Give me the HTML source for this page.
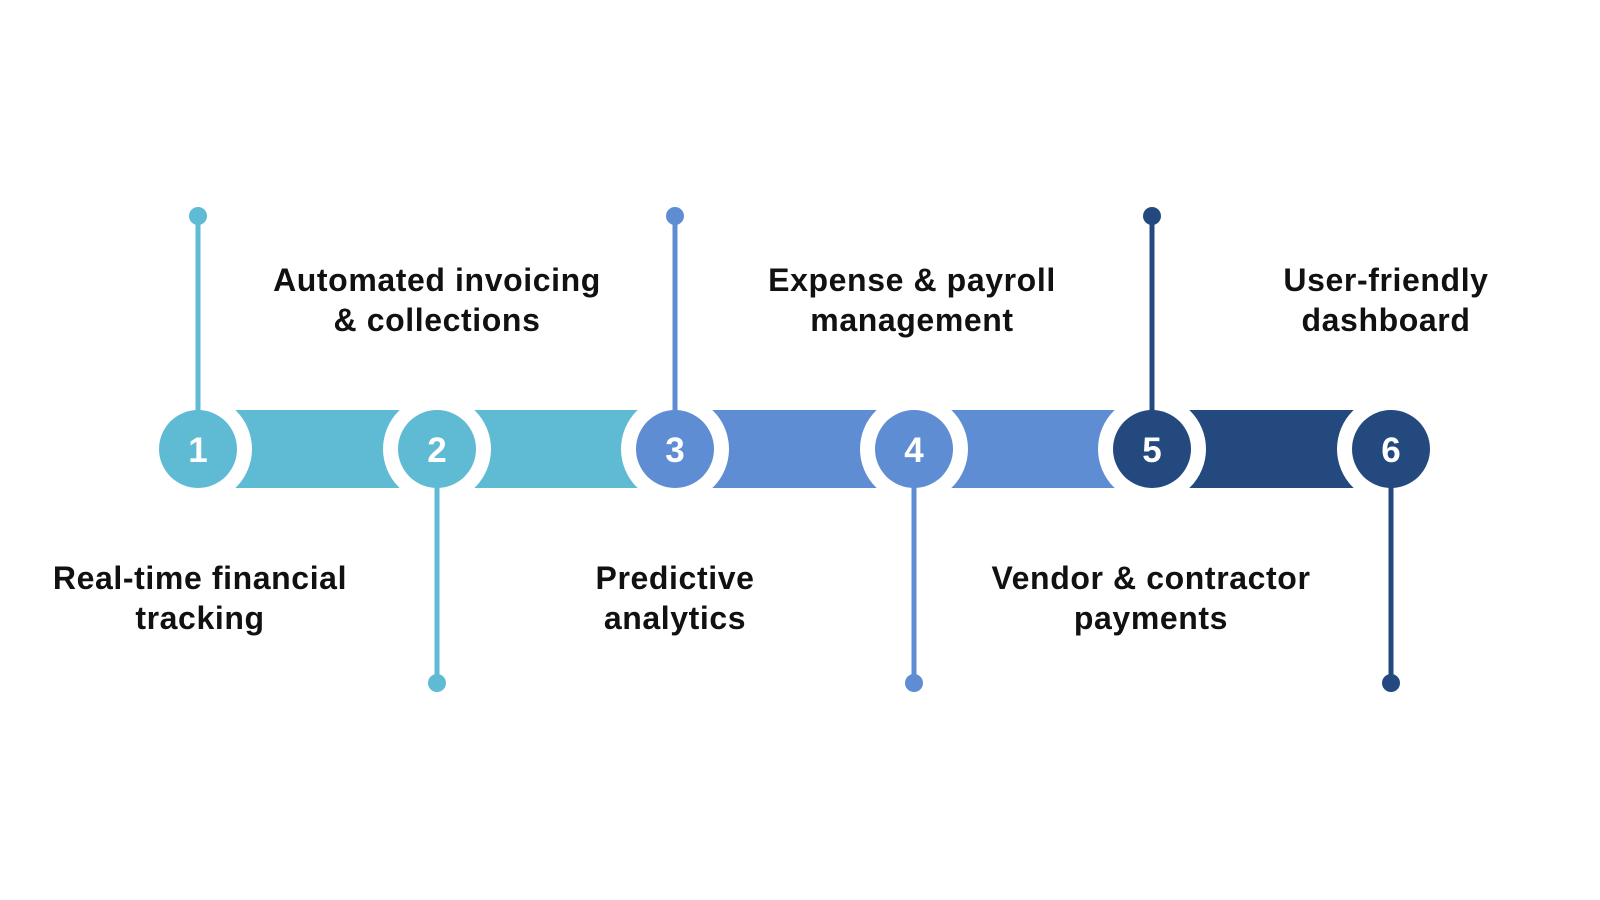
<!DOCTYPE html>
<html><head><style>
body{margin:0;background:#fff;}
</style></head><body>
<svg width="1600" height="900" xmlns="http://www.w3.org/2000/svg" style="display:block">
<g>
<rect x="198" y="410" width="239" height="78" fill="#5fbad3"/>
<rect x="437" y="410" width="238" height="78" fill="#5fbad3"/>
<rect x="675" y="410" width="239" height="78" fill="#5f8dd3"/>
<rect x="914" y="410" width="238" height="78" fill="#5f8dd3"/>
<rect x="1152" y="410" width="239" height="78" fill="#23497f"/>
</g>
<g fill="#fff">
<circle cx="198" cy="449" r="54"/><circle cx="437" cy="449" r="54"/><circle cx="675" cy="449" r="54"/>
<circle cx="914" cy="449" r="54"/><circle cx="1152" cy="449" r="54"/><circle cx="1391" cy="449" r="54"/>
</g>
<g stroke-width="5">
<line x1="198" y1="216" x2="198" y2="418" stroke="#5fbad3"/>
<line x1="437" y1="480" x2="437" y2="683" stroke="#5fbad3"/>
<line x1="675" y1="216" x2="675" y2="418" stroke="#5f8dd3"/>
<line x1="914" y1="480" x2="914" y2="683" stroke="#5f8dd3"/>
<line x1="1152" y1="216" x2="1152" y2="418" stroke="#23497f"/>
<line x1="1391" y1="480" x2="1391" y2="683" stroke="#23497f"/>
</g>
<circle cx="198" cy="216" r="9" fill="#5fbad3"/><circle cx="437" cy="683" r="9" fill="#5fbad3"/>
<circle cx="675" cy="216" r="9" fill="#5f8dd3"/><circle cx="914" cy="683" r="9" fill="#5f8dd3"/>
<circle cx="1152" cy="216" r="9" fill="#23497f"/><circle cx="1391" cy="683" r="9" fill="#23497f"/>
<circle cx="198" cy="449" r="39" fill="#5fbad3"/><circle cx="437" cy="449" r="39" fill="#5fbad3"/>
<circle cx="675" cy="449" r="39" fill="#5f8dd3"/><circle cx="914" cy="449" r="39" fill="#5f8dd3"/>
<circle cx="1152" cy="449" r="39" fill="#23497f"/><circle cx="1391" cy="449" r="39" fill="#23497f"/>
<g font-family="Liberation Sans, sans-serif" font-weight="bold" font-size="35" fill="#fff" text-anchor="middle">
<text x="198" y="462">1</text><text x="437" y="462">2</text><text x="675" y="462">3</text>
<text x="914" y="462">4</text><text x="1152" y="462">5</text><text x="1391" y="462">6</text>
</g>
<g font-family="Liberation Sans, sans-serif" font-weight="bold" font-size="32" letter-spacing="0.6" fill="#111" text-anchor="middle">
<text x="437" y="291">Automated invoicing</text><text x="437" y="331">&amp; collections</text>
<text x="912" y="291">Expense &amp; payroll</text><text x="912" y="331">management</text>
<text x="1386" y="291">User-friendly</text><text x="1386" y="331">dashboard</text>
<text x="200" y="589">Real-time financial</text><text x="200" y="629">tracking</text>
<text x="675" y="589">Predictive</text><text x="675" y="629">analytics</text>
<text x="1151" y="589">Vendor &amp; contractor</text><text x="1151" y="629">payments</text>
</g>
</svg>
</body></html>
